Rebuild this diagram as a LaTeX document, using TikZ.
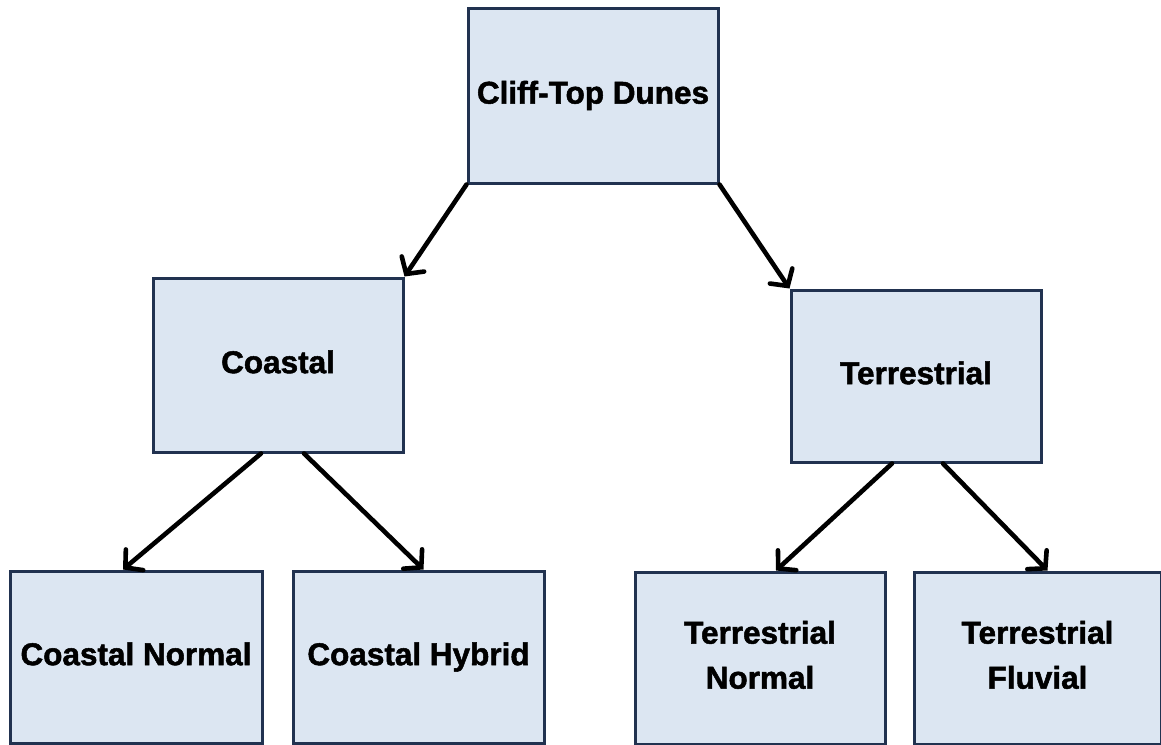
\documentclass[tikz,border=0pt]{standalone}
\usepackage{fontspec}
\setmainfont{Liberation Sans}
\newfontfamily\heavyfont{Liberation Sans Bold}[FakeBold=1.6]
\usepackage{xcolor}
\usetikzlibrary{positioning,arrows.meta}

\definecolor{boxfill}{RGB}{220,230,242}
\definecolor{boxline}{RGB}{33,50,80}

\begin{document}
\begin{tikzpicture}[
          x=1pt, y=-1pt,
          box/.style={draw=boxline, line width=3pt, fill=boxfill, align=center,
                      inner sep=0pt, font=\fontsize{31.5}{45}\selectfont\heavyfont,
                      execute at begin node=\vphantom{Ty}},
          arr/.style={-{Straight Barb[length=12pt, width=27pt, line cap=round]},
                      line width=4.6pt, line cap=round}
      ]
        \useasboundingbox (0,0) rectangle (1161,744);
        % top level
        \node[box, minimum width=250pt, minimum height=175pt] (dunes) at (593,95.5) {Cliff-Top Dunes};
        % second level
        \node[box, minimum width=250pt, minimum height=174pt] (coastal) at (278,365) {Coastal};
        \node[box, minimum width=250pt, minimum height=172pt] (terr) at (916,376) {Terrestrial};
        % leaves
        \node[box, minimum width=252pt, minimum height=172pt] (cnormal) at (136,657) {Coastal Normal};
        \node[box, minimum width=251pt, minimum height=172pt] (chybrid) at (418.5,657) {Coastal Hybrid};
        \node[box, minimum width=250pt, minimum height=172pt] (tnormal) at (760,658) {Terrestrial\\Normal};
        \node[box, minimum width=247pt, minimum height=172pt] (tfluvial) at (1037.5,658) {Terrestrial\\Fluvial};

        \draw[arr] (dunes.south west) -- (coastal.north east);
        \draw[arr] (dunes.south east) -- (terr.north west);
        \draw[arr] ([xshift=-17pt]coastal.south) -- ([xshift=-13pt]cnormal.north);
        \draw[arr] ([xshift=26pt]coastal.south) -- ([xshift=5pt]chybrid.north);
        \draw[arr] ([xshift=-24pt]terr.south) -- ([xshift=16pt]tnormal.north);
        \draw[arr] ([xshift=27pt]terr.south) -- ([xshift=10pt]tfluvial.north);
      \end{tikzpicture}
\end{document}
